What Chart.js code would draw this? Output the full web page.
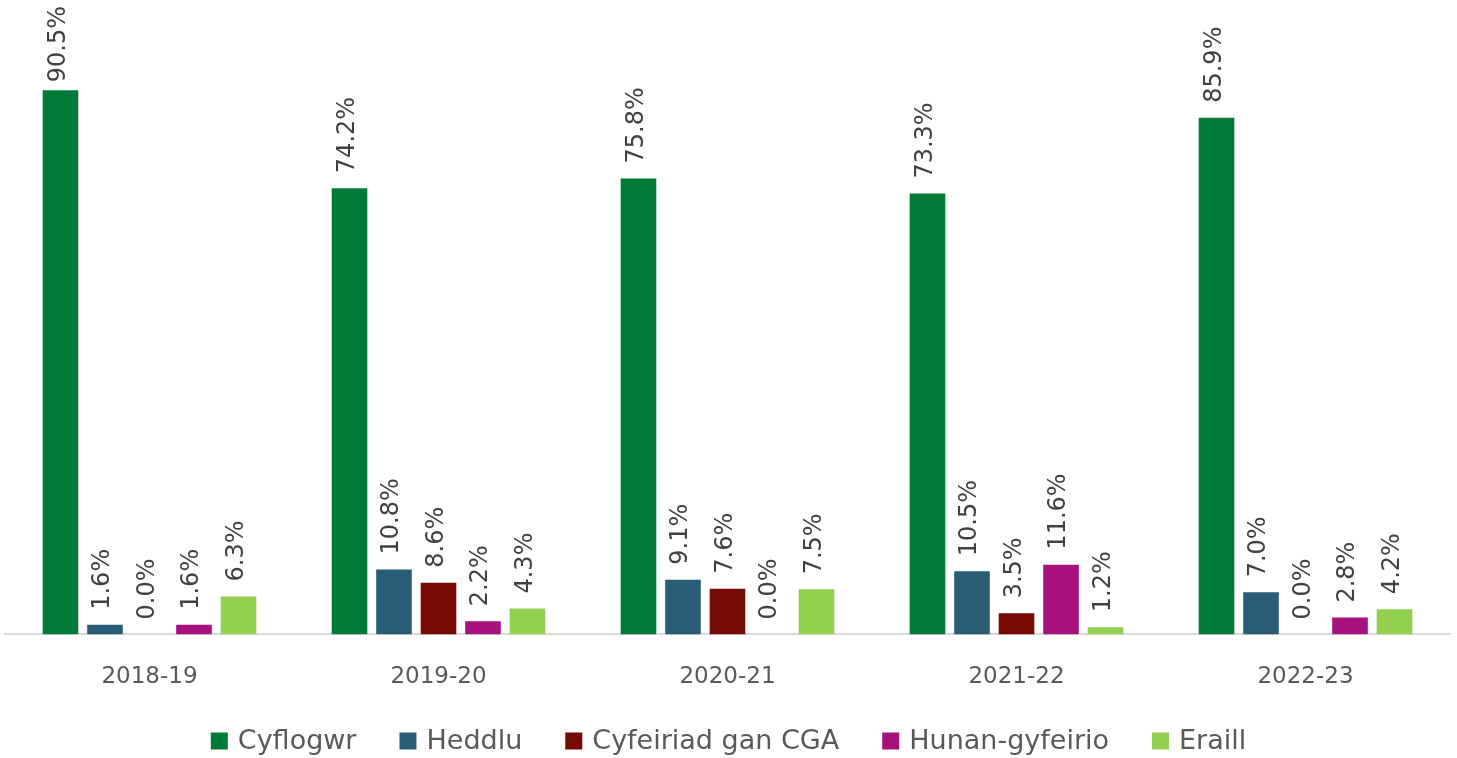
<!DOCTYPE html>
<html>
<head>
<meta charset="utf-8">
<script src="https://cdn.jsdelivr.net/npm/chart.js@4"></script>
<style>
  html, body { margin: 0; padding: 0; background: #fff; }
  #wrap { width: 1457px; height: 758px; position: relative; }
</style>
</head>
<body>
<div id="wrap"><canvas id="chart"></canvas></div>
<script>
const years = ['2018-19', '2019-20', '2020-21', '2021-22', '2022-23'];

const cyflogwr = [90.5, 74.2, 75.8, 73.3, 85.9];
const heddlu = [1.6, 10.8, 9.1, 10.5, 7.0];
const cyfeiriadCGA = [0.0, 8.6, 7.6, 3.5, 0.0];
const hunanGyfeirio = [1.6, 2.2, 0.0, 11.6, 2.8];
const eraill = [6.3, 4.3, 7.5, 1.2, 4.2];

const textColor = '#595959';

// draws rotated % labels above each bar
const barLabels = {
    id: 'barLabels',
    afterDatasetsDraw(chart) {
        const c = chart.ctx;
        c.save();
        c.font = '24px "DejaVu Sans"';
        c.fillStyle = '#404040';
        c.textAlign = 'left';
        c.textBaseline = 'middle';
        chart.data.datasets.forEach((ds, i) => {
            chart.getDatasetMeta(i).data.forEach((bar, j) => {
                const txt = ds.data[j].toFixed(1) + '%';
                const w = c.measureText(txt).width;
                let y = bar.y - 15;
                if (y - w < 6) y = 6 + w;
                c.save();
                c.translate(bar.x - 2, y);
                c.rotate(-Math.PI / 2);
                c.fillText(txt, 0, 0);
                c.restore();
            });
        });
        c.restore();
    }
};

// legend row at the bottom, centred
const bottomLegend = {
    id: 'bottomLegend',
    afterDraw(chart) {
        const c = chart.ctx;
        const box = 17, gapText = 10, gapItem = 43, cy = 741;
        c.save();
        c.font = '27px "DejaVu Sans"';
        c.textBaseline = 'middle';
        c.textAlign = 'left';
        const items = chart.data.datasets.map(ds => ({
            label: ds.label, color: ds.backgroundColor, w: c.measureText(ds.label).width
        }));
        let total = 0;
        items.forEach((it, k) => {
            total += box + gapText + it.w + (k < items.length - 1 ? gapItem : 0);
        });
        let x = (chart.width - total) / 2;
        items.forEach(it => {
            c.fillStyle = it.color;
            c.fillRect(x, cy - box / 2, box, box);
            x += box + gapText;
            c.fillStyle = textColor;
            c.fillText(it.label, x, cy + 1);
            x += it.w + gapItem;
        });
        c.restore();
    }
};

var ctx = document.getElementById('chart');
var myChart = new Chart(ctx, {
    type: 'bar',
    data: {
        labels: years,
        datasets: [
            { label: 'Cyflogwr', backgroundColor: '#007A37', data: cyflogwr },
            { label: 'Heddlu', backgroundColor: '#2A5D78', data: heddlu },
            { label: 'Cyfeiriad gan CGA', backgroundColor: '#780A04', data: cyfeiriadCGA },
            { label: 'Hunan-gyfeirio', backgroundColor: '#A6117D', data: hunanGyfeirio },
            { label: 'Eraill', backgroundColor: '#92D050', data: eraill }
        ]
    },
    options: {
        responsive: true,
        maintainAspectRatio: false,
        animation: false,
        categoryPercentage: 0.77,
        barPercentage: 0.8,
        layout: {
            padding: { top: 33, left: 5, right: 7, bottom: 46 }
        },
        plugins: {
            legend: { display: false },
            tooltip: { enabled: false }
        },
        scales: {
            x: {
                grid: { display: false },
                border: { color: '#D9D9D9', width: 2 },
                ticks: {
                    color: textColor,
                    font: { family: 'DejaVu Sans', size: 23 },
                    padding: 21
                }
            },
            y: {
                min: 0,
                max: 100,
                display: false
            }
        }
    },
    plugins: [barLabels, bottomLegend]
});
</script>
</body>
</html>
